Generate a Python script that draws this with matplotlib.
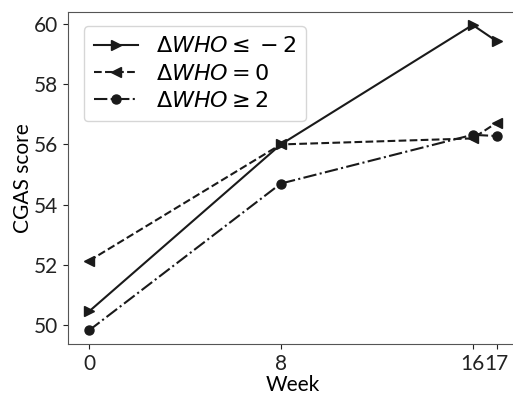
import matplotlib
matplotlib.use("Agg")
import matplotlib.pyplot as plt

weeks = [0, 8, 16, 17]
tick_labels = ["0", "8", "16", "17"]
who_le_m2 = [50.45, 56.0, 59.97, 59.43]
who_eq_0 = [52.13, 56.0, 56.2, 56.72]
who_ge_2 = [49.82, 54.7, 56.32, 56.28]
labels = [r"$\Delta WHO \leq -2$", r"$\Delta WHO = 0$", r"$\Delta WHO \geq 2$"]

plt.rcParams["font.family"] = ["Lato", "DejaVu Sans"]
plt.rcParams["mathtext.fontset"] = "dejavusans"

fig = plt.figure(figsize=(5.13, 3.94), dpi=100)
W, H = 513, 394
left, right, top, bottom = 68, 517, 12, 344
ax = fig.add_axes([left / W, 1 - bottom / H, (right - left) / W, (bottom - top) / H])

c = "#1a1a1a"
ax.plot(weeks, who_le_m2, linestyle="-", marker=">", color=c, lw=1.5, ms=6.5, label=labels[0])
ax.plot(weeks, who_eq_0, linestyle="--", marker="<", color=c, lw=1.5, ms=6.5, label=labels[1])
ax.plot(weeks, who_ge_2, linestyle="-.", marker="o", color=c, lw=1.5, ms=6.5, label=labels[2])

ax.set_xticks(weeks)
ax.set_xticklabels(tick_labels)
ax.set_yticks([50, 52, 54, 56, 58, 60])
ax.set_xlim(-0.875, 17.85)
ax.set_ylim(49.37, 60.4)
ax.tick_params(labelsize=15, colors="#222222")
for s in ax.spines.values():
    s.set_color("#555555")
ax.set_xlabel("Week", fontsize=15, labelpad=1)
ax.set_ylabel("CGAS score", fontsize=15, labelpad=1)

leg = ax.legend(loc="upper left", fontsize=16, handlelength=2.0, borderpad=0.45,
                labelspacing=0.33, handletextpad=0.8, bbox_to_anchor=(0.01, 0.99))

fig.savefig("out.png", dpi=100)
